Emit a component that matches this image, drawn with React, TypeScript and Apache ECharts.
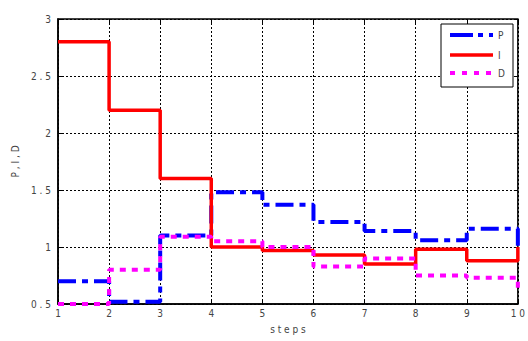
import React, { useEffect, useRef } from "react";
import * as echarts from "echarts";

const steps = [1, 2, 3, 4, 5, 6, 7, 8, 9, 10];
const pValues = [0.7, 0.52, 1.1, 1.48, 1.37, 1.22, 1.14, 1.06, 1.16, 0.97];
const iValues = [2.8, 2.2, 1.6, 1.0, 0.97, 0.93, 0.85, 0.98, 0.88, 1.0];
const dValues = [0.5, 0.8, 1.09, 1.05, 1.0, 0.83, 0.9, 0.75, 0.73, 0.6];
const seriesNames = ["P", "I", "D"];

const FONT = "'Liberation Sans Narrow', 'DejaVu Sans Condensed', 'Liberation Sans', sans-serif";

// spread characters apart, e.g. "2.5" -> "2 . 5"
const spaced = (s: string) => s.split("").join(" ");

const toPoints = (vals: number[]) => steps.map((x, i) => [x, vals[i]]);

export default function App() {
  const ref = useRef<HTMLDivElement>(null);

  useEffect(() => {
    if (!ref.current) return;
    const chart = echarts.init(ref.current, null, { renderer: "svg" });

    const axisLabel = {
      color: "#444",
      fontFamily: FONT,
      fontSize: 10,
    };

    const legendX0 = 450;
    const legendX1 = 493;
    const legendRows = [35, 55, 73];

    chart.setOption({
      animation: false,
      backgroundColor: "#fff",
      grid: {
        left: 58,
        right: 5,
        top: 19,
        bottom: 37,
        show: true,
        borderColor: "#000",
        borderWidth: 1.5,
        backgroundColor: "transparent",
      },
      xAxis: [
        {
          type: "value",
          min: 1,
          max: 10,
          interval: 1,
          name: spaced("steps"),
          nameLocation: "middle",
          nameGap: 20,
          nameTextStyle: { color: "#444", fontFamily: FONT, fontSize: 10 },
          axisLine: { show: true, onZero: false, lineStyle: { color: "#000", width: 1.5 } },
          axisTick: { show: true, inside: true, length: 4, lineStyle: { color: "#000" } },
          axisLabel: {
            ...axisLabel,
            margin: 4,
            formatter: (v: number) => spaced(String(v)),
          },
          splitLine: { show: true, lineStyle: { color: "#000", type: [2, 2], width: 1 } },
        },
        {
          type: "value",
          position: "top",
          min: 1,
          max: 10,
          interval: 1,
          axisLine: { show: false },
          axisTick: { show: true, inside: true, length: 4, lineStyle: { color: "#000" } },
          axisLabel: { show: false },
          splitLine: { show: false },
        },
      ],
      yAxis: [
        {
          type: "value",
          min: 0.5,
          max: 3,
          interval: 0.5,
          name: spaced("P,I,D").replace(/ ,/g, " ,"),
          nameLocation: "middle",
          nameGap: 38,
          nameRotate: 90,
          nameTextStyle: { color: "#444", fontFamily: FONT, fontSize: 10 },
          axisLine: { show: true, onZero: false, lineStyle: { color: "#000", width: 1.5 } },
          axisTick: { show: true, inside: true, length: 4, lineStyle: { color: "#000" } },
          axisLabel: {
            ...axisLabel,
            margin: 7,
            formatter: (v: number) => spaced(String(v)),
          },
          splitLine: { show: true, lineStyle: { color: "#000", type: [2, 2], width: 1 } },
        },
        {
          type: "value",
          position: "right",
          min: 0.5,
          max: 3,
          interval: 0.5,
          axisLine: { show: false },
          axisTick: { show: true, inside: true, length: 4, lineStyle: { color: "#000" } },
          axisLabel: { show: false },
          splitLine: { show: false },
        },
      ],
      series: [
        {
          name: seriesNames[0],
          type: "line",
          step: "end",
          data: toPoints(pValues),
          showSymbol: false,
          z: 2,
          lineStyle: { color: "#0000ff", width: 4, type: [18, 6, 6, 6], cap: "butt" },
        },
        {
          name: seriesNames[1],
          type: "line",
          step: "end",
          data: toPoints(iValues),
          showSymbol: false,
          z: 3,
          lineStyle: { color: "#ff0000", width: 3.5, type: "solid" },
        },
        {
          name: seriesNames[2],
          type: "line",
          step: "end",
          data: toPoints(dValues),
          showSymbol: false,
          z: 4,
          lineStyle: { color: "#ff00ff", width: 4, type: [6, 6], cap: "butt" },
        },
      ],
      graphic: [
        {
          type: "rect",
          z: 100,
          shape: { x: 441, y: 24, width: 72, height: 63 },
          style: { fill: "#fff", stroke: "#000", lineWidth: 1 },
        },
        {
          type: "line",
          z: 101,
          shape: { x1: legendX0, y1: legendRows[0], x2: legendX1, y2: legendRows[0] },
          style: { stroke: "#0000ff", lineWidth: 4, lineDash: [23, 5, 5, 6, 5] },
        },
        {
          type: "line",
          z: 101,
          shape: { x1: legendX0, y1: legendRows[1], x2: legendX1, y2: legendRows[1] },
          style: { stroke: "#ff0000", lineWidth: 3.5 },
        },
        {
          type: "line",
          z: 101,
          shape: { x1: legendX0, y1: legendRows[2], x2: legendX1, y2: legendRows[2] },
          style: { stroke: "#ff00ff", lineWidth: 4, lineDash: [5, 7] },
        },
        ...seriesNames.map((n, i) => ({
          type: "text",
          z: 101,
          x: 498,
          y: legendRows[i],
          style: {
            text: n,
            fill: "#444",
            font: `10px ${FONT}`,
            verticalAlign: "middle",
            align: "left",
          },
        })),
      ],
    });

    return () => chart.dispose();
  }, []);

  return (
    <div
      ref={ref}
      style={{ position: "fixed", left: 0, top: 0, width: 528, height: 341 }}
    />
  );
}
